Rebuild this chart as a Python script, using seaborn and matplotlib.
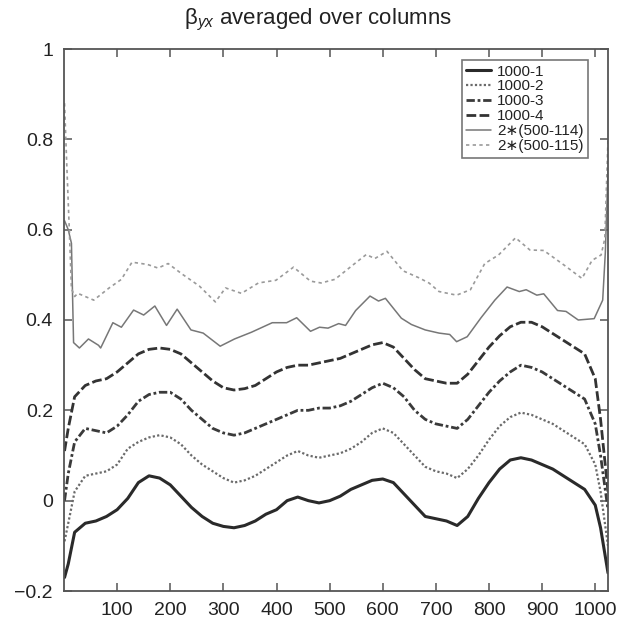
import numpy as np
import pandas as pd
import matplotlib
matplotlib.use("Agg")
import matplotlib.pyplot as plt
import seaborn as sns

# ---------------- data ----------------
x_smooth = [1, 8, 20] + list(range(40, 1001, 20)) + [1010, 1024]

y_1000_1 = [-0.17, -0.14, -0.07,
            -0.05, -0.045, -0.035, -0.02, 0.005, 0.04, 0.055, 0.05, 0.035, 0.01,
            -0.015, -0.035, -0.05, -0.057, -0.06, -0.055, -0.045, -0.03, -0.02, 0.0,
            0.008, 0.0, -0.005, 0.0, 0.01, 0.025, 0.035, 0.045, 0.048, 0.04,
            0.015, -0.01, -0.035, -0.04, -0.045, -0.055, -0.035, 0.005, 0.04, 0.07,
            0.09, 0.095, 0.09, 0.08, 0.07, 0.055, 0.04, 0.025, -0.01,
            -0.06, -0.16]
y_1000_2 = [-0.09, -0.05, 0.02,
            0.055, 0.06, 0.065, 0.08, 0.115, 0.13, 0.14, 0.145, 0.14, 0.125,
            0.10, 0.08, 0.065, 0.05, 0.04, 0.045, 0.055, 0.07, 0.085, 0.10,
            0.11, 0.10, 0.095, 0.10, 0.105, 0.115, 0.13, 0.15, 0.16, 0.15,
            0.125, 0.10, 0.075, 0.065, 0.06, 0.05, 0.07, 0.10, 0.135, 0.165,
            0.185, 0.195, 0.19, 0.18, 0.17, 0.155, 0.14, 0.125, 0.08,
            0.02, -0.10]
y_1000_3 = [0.0, 0.06, 0.13,
            0.16, 0.155, 0.15, 0.165, 0.19, 0.22, 0.235, 0.24, 0.24, 0.225,
            0.20, 0.18, 0.16, 0.15, 0.145, 0.15, 0.16, 0.17, 0.18, 0.19,
            0.20, 0.20, 0.205, 0.205, 0.21, 0.22, 0.235, 0.25, 0.26, 0.25,
            0.23, 0.20, 0.18, 0.17, 0.165, 0.16, 0.18, 0.21, 0.24, 0.265,
            0.285, 0.30, 0.295, 0.285, 0.27, 0.255, 0.24, 0.225, 0.17,
            0.10, -0.02]
y_1000_4 = [0.11, 0.16, 0.23,
            0.255, 0.265, 0.27, 0.285, 0.305, 0.325, 0.335, 0.338, 0.335, 0.325,
            0.305, 0.285, 0.265, 0.25, 0.245, 0.248, 0.255, 0.27, 0.285, 0.295,
            0.30, 0.30, 0.305, 0.31, 0.315, 0.325, 0.335, 0.345, 0.35, 0.34,
            0.315, 0.29, 0.27, 0.265, 0.26, 0.26, 0.28, 0.31, 0.34, 0.365,
            0.385, 0.395, 0.395, 0.385, 0.37, 0.355, 0.34, 0.325, 0.27,
            0.18, 0.02]

x_500_114 = [1, 8, 14, 18, 29, 46, 65, 69, 92, 108, 131, 150, 171, 193, 213,
             239, 262, 294, 321, 353, 392, 419, 438, 464, 481, 497, 517, 530,
             549, 576, 592, 605, 635, 654, 680, 706, 726, 739, 759, 785, 811,
             834, 857, 870, 890, 903, 929, 945, 968, 998, 1014, 1019, 1024]
y_500_114 = [0.62, 0.60, 0.57, 0.35, 0.338, 0.358, 0.344, 0.338, 0.394, 0.384,
             0.422, 0.411, 0.431, 0.388, 0.424, 0.378, 0.371, 0.342, 0.358,
             0.373, 0.394, 0.394, 0.405, 0.375, 0.384, 0.382, 0.392, 0.388,
             0.421, 0.453, 0.442, 0.448, 0.404, 0.39, 0.378, 0.371, 0.368,
             0.352, 0.363, 0.405, 0.444, 0.473, 0.463, 0.467, 0.455, 0.458,
             0.421, 0.419, 0.40, 0.403, 0.444, 0.55, 0.73]

x_500_115 = [1, 5, 10, 14, 20, 26, 56, 85, 108, 128, 157, 177, 196, 222, 255,
             285, 304, 334, 366, 399, 432, 464, 484, 510, 543, 569, 585, 608,
             638, 667, 687, 706, 739, 765, 792, 818, 850, 877, 903, 942, 975,
             994, 1011, 1018, 1024]
y_500_115 = [0.88, 0.75, 0.60, 0.47, 0.452, 0.459, 0.444, 0.471, 0.49, 0.528,
             0.523, 0.515, 0.525, 0.502, 0.475, 0.44, 0.471, 0.459, 0.482,
             0.488, 0.517, 0.486, 0.482, 0.49, 0.521, 0.545, 0.536, 0.552,
             0.509, 0.494, 0.482, 0.463, 0.455, 0.467, 0.525, 0.544, 0.582,
             0.555, 0.554, 0.521, 0.492, 0.532, 0.544, 0.58, 0.80]

labels = ["1000-1", "1000-2", "1000-3", "1000-4", "2\u2217(500-114)", "2\u2217(500-115)"]
x_ticks = [100, 200, 300, 400, 500, 600, 700, 800, 900, 1000]
y_ticks = [-0.2, 0, 0.2, 0.4, 0.6, 0.8, 1]
y_tick_labels = ["\u22120.2", "0", "0.2", "0.4", "0.6", "0.8", "1"]
title = "\u03b2$_{yx}$ averaged over columns"

# ---------------- style ----------------
sns.set_theme(style="white", rc={
    "xtick.bottom": True, "xtick.top": True,
    "ytick.left": True, "ytick.right": True,
    "xtick.direction": "in", "ytick.direction": "in",
    "xtick.major.size": 6, "ytick.major.size": 6,
    "xtick.major.width": 1.1, "ytick.major.width": 1.1,
    "xtick.color": "#555555", "ytick.color": "#555555",
})
plt.rcParams["font.family"] = ["Liberation Sans", "DejaVu Sans"]
plt.rcParams["mathtext.fontset"] = "custom"
plt.rcParams["mathtext.it"] = "Liberation Sans:italic"
plt.rcParams["mathtext.rm"] = "Liberation Sans"

fig = plt.figure(figsize=(6.18, 6.19), dpi=100)
ax = fig.add_axes([64 / 618, 1 - 591 / 619, (608 - 64) / 618, (591 - 49) / 619])

series = [
    (x_smooth, y_1000_1, dict(color="#2a2a2a", lw=2.2, linestyle="-")),
    (x_smooth, y_1000_2, dict(color="#6a6a6a", lw=1.6, linestyle=(0, (1, 1)))),
    (x_smooth, y_1000_3, dict(color="#3a3a3a", lw=2.0, linestyle=(0, (3, 1, 1, 1)))),
    (x_smooth, y_1000_4, dict(color="#333333", lw=2.0, linestyle=(0, (3.5, 1.2)))),
    (x_500_114, y_500_114, dict(color="#777777", lw=1.1, linestyle="-")),
    (x_500_115, y_500_115, dict(color="#9a9a9a", lw=1.2, linestyle=(0, (2, 2)))),
]
for (xs, ys, kw), lab in zip(series, labels):
    sns.lineplot(x=xs, y=ys, ax=ax, label=lab, sort=False, **kw)

ax.set_xlim(0, 1024)
ax.set_ylim(-0.2, 1)
ax.set_xticks(x_ticks)
ax.set_xticklabels([str(t) for t in x_ticks])
ax.set_yticks(y_ticks)
ax.set_yticklabels(y_tick_labels)
ax.tick_params(which="major", direction="in", bottom=True, left=True,
               top=True, right=True, length=6, width=1.1, color="#555555",
               labelsize=14, labelcolor="#222222", pad=8)
for s in ax.spines.values():
    s.set_color("#555555")
    s.set_linewidth(1.3)

leg = ax.legend(loc="upper right", bbox_to_anchor=(588 / 618, 1 - 60 / 619),
                bbox_transform=fig.transFigure, fontsize=11, frameon=True,
                fancybox=False, handlelength=1.6, handletextpad=0.4,
                labelspacing=0.06, borderpad=0.3, borderaxespad=0)
leg.get_frame().set_edgecolor("#555555")
leg.get_frame().set_linewidth(1.2)
for t in leg.get_texts():
    t.set_color("#222222")

fig.text(318 / 618, 1 - 20 / 619, title, ha="center", va="center",
         fontsize=16, color="#222222")

fig.savefig("out.png", dpi=100, facecolor="white")
